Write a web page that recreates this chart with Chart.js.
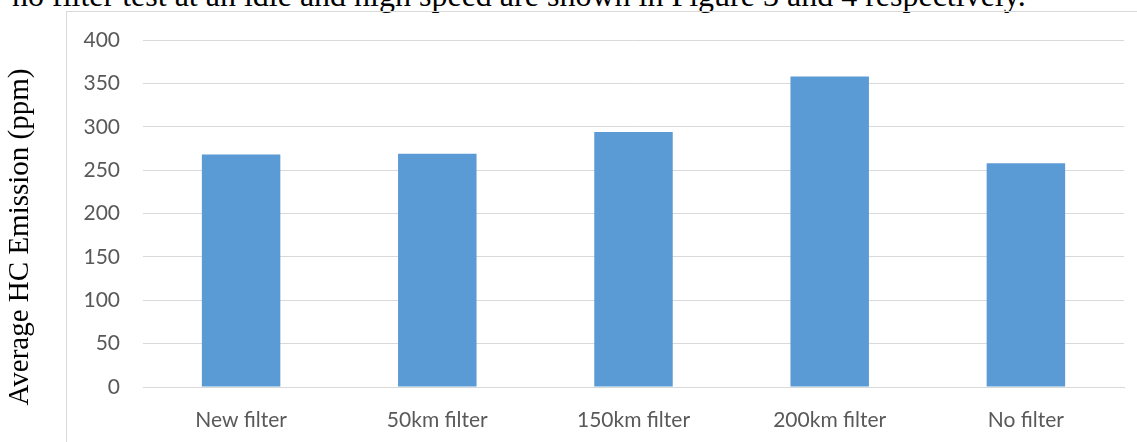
<!DOCTYPE html>
<html>
<head>
<meta charset="utf-8">
<script src="https://cdn.jsdelivr.net/npm/chart.js@4.4.0/dist/chart.umd.min.js"></script>
<style>
  html, body { margin: 0; padding: 0; background: #ffffff; }
  body { width: 1137px; height: 442px; position: relative; overflow: hidden; }
  .para {
    position: absolute; left: 12px; top: -21px;
    font-family: "Liberation Serif", "Times New Roman", serif;
    font-size: 32px; line-height: 32px; color: #000; white-space: nowrap;
  }
  .frame {
    position: absolute; left: 66px; top: 11px; width: 1200px; height: 600px;
    border: 1px solid #d9d9d9; box-sizing: border-box;
  }
  #chart { position: absolute; left: 0; top: 0; }
</style>
</head>
<body>
<div class="para">no filter test at an idle and high speed are shown in Figure 3 and 4 respectively.</div>
<div class="frame"></div>
<canvas id="chart" width="1137" height="442"></canvas>
<script>
// Filter condition on the category axis
const categories = ['New filter', '50km filter', '150km filter', '200km filter', 'No filter'];
// Average HC emission in ppm for each condition
const hcEmission = [268, 269, 294, 358, 258];
// Value axis range and step
const yMin = 0;
const yMax = 400;
const yStep = 50;
const yTitle = 'Average HC Emission (ppm)';

const tickFont = { family: 'Lato, "Open Sans", sans-serif', size: 21 };

// Rotated axis title, set in a serif face to the left of the frame
const axisTitle = {
  id: 'axisTitle',
  afterDraw(chart) {
    const ctx = chart.ctx;
    ctx.save();
    ctx.translate(28, 237);
    ctx.rotate(-Math.PI / 2);
    ctx.font = '29px "Liberation Serif", "Times New Roman", serif';
    ctx.fillStyle = '#000000';
    ctx.textAlign = 'center';
    ctx.textBaseline = 'alphabetic';
    ctx.fillText(yTitle, 0, 0);
    ctx.restore();
  }
};

new Chart(document.getElementById('chart'), {
  type: 'bar',
  data: {
    labels: categories,
    datasets: [{
      data: hcEmission,
      backgroundColor: '#5B9BD5',
      borderWidth: 0,
      categoryPercentage: 1,
      barPercentage: 0.4
    }]
  },
  options: {
    responsive: false,
    animation: false,
    devicePixelRatio: 1,
    layout: { padding: { top: 40, right: 13, left: 0, bottom: 0 } },
    plugins: { legend: { display: false }, tooltip: { enabled: false } },
    scales: {
      x: {
        grid: { display: false },
        border: { display: true, color: '#d9d9d9', width: 1 },
        ticks: { color: '#595959', font: tickFont, padding: 13 },
        afterFit(scale) { scale.height = 55; }
      },
      y: {
        min: yMin,
        max: yMax,
        ticks: { stepSize: yStep, color: '#595959', font: tickFont, padding: 23 },
        grid: { color: '#d9d9d9', lineWidth: 1, drawTicks: false },
        border: { display: false },
        afterFit(scale) { scale.width = 143; }
      }
    }
  },
  plugins: [axisTitle]
});
</script>
</body>
</html>
